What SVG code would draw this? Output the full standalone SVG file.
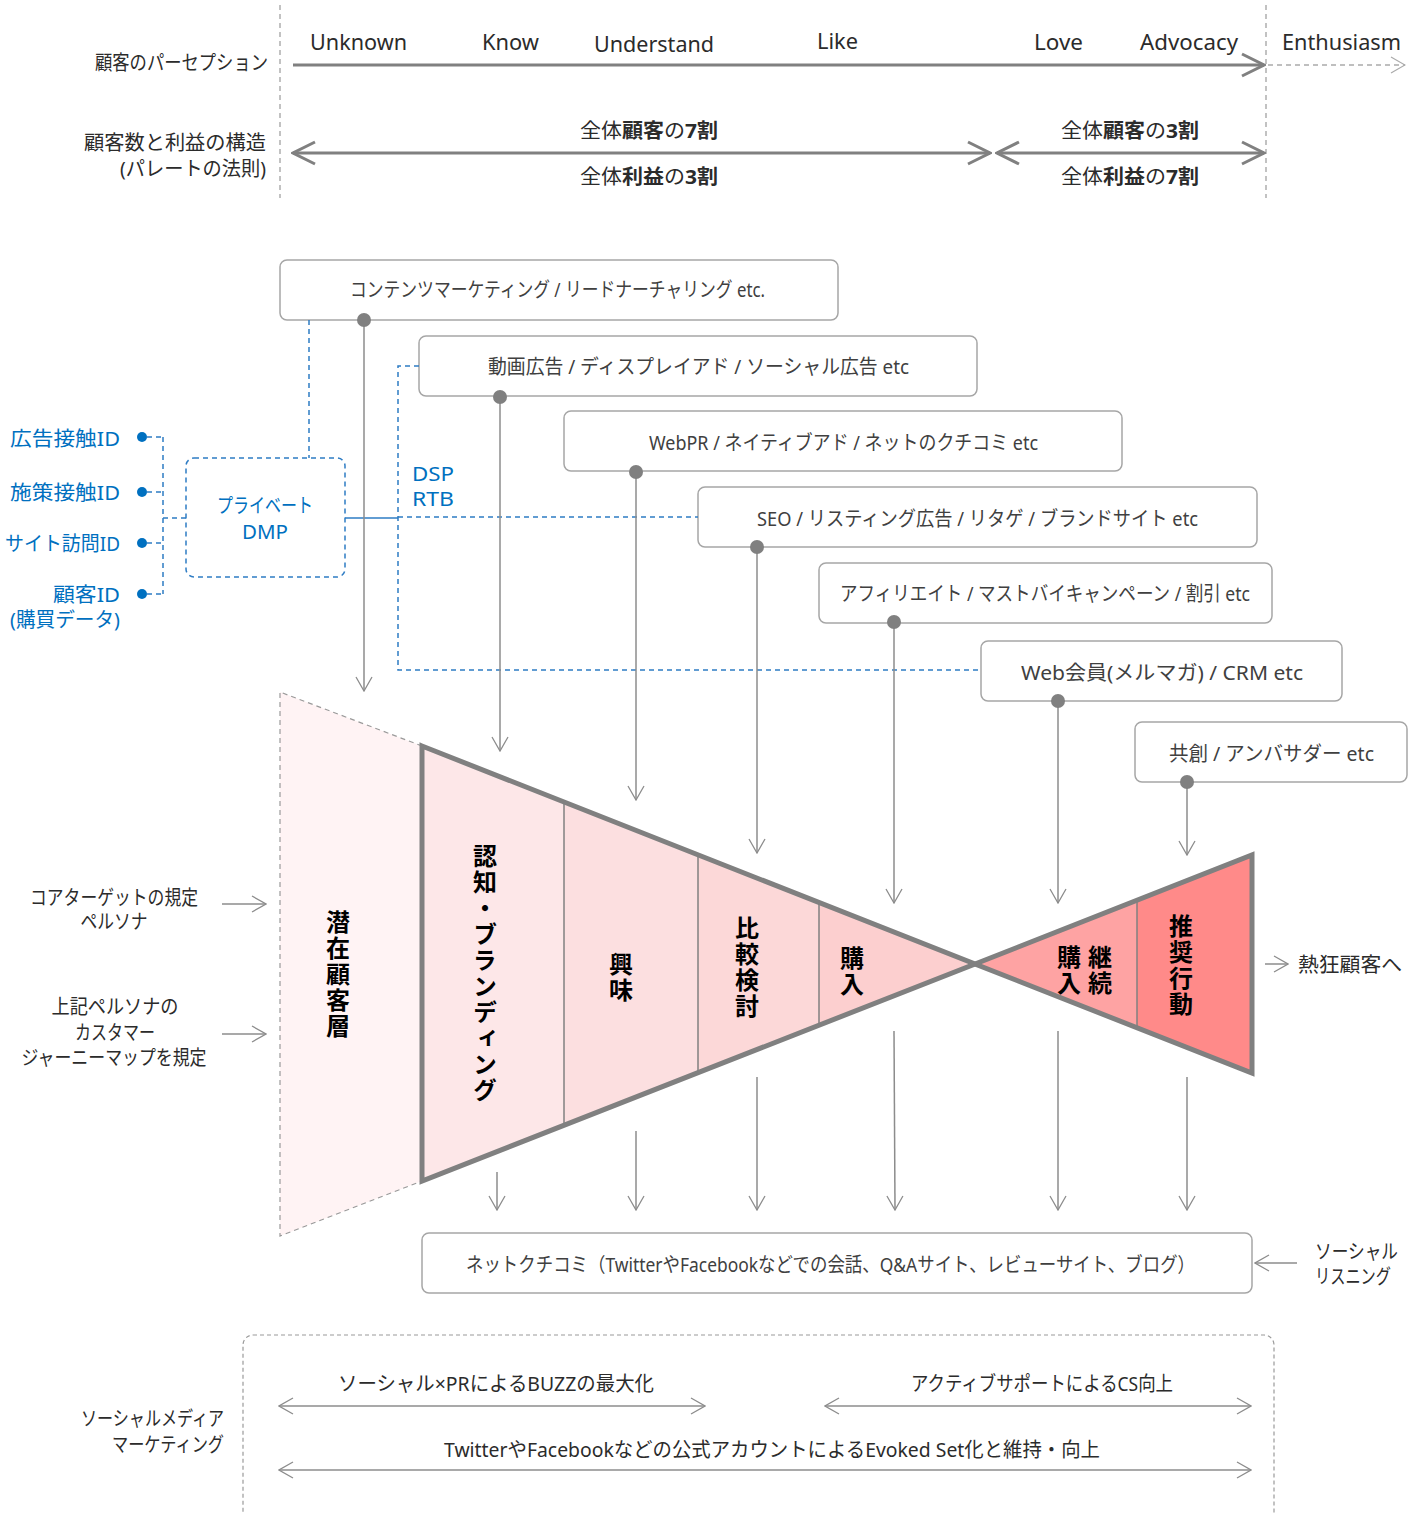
<svg xmlns="http://www.w3.org/2000/svg" width="1413" height="1514" viewBox="0 0 1413 1514">
<style>
.t{font-family:"Noto Sans","Noto Sans CJK JP",sans-serif;font-size:20px;fill:#2b2b2b}
.bt{fill:#404040}
.bl{fill:#0070C0}
.bx{fill:#fff;stroke:#a6a6a6;stroke-width:1.5}
.v{font-family:"Noto Sans CJK JP",sans-serif;font-weight:bold;font-size:24px;writing-mode:vertical-rl;text-anchor:middle;fill:#000;letter-spacing:2px}
.c{stroke:#8c8c8c;stroke-width:1.5;fill:none}
.ct{stroke:#808080;stroke-width:3;fill:none}
.bd{stroke:#2E7CC4;stroke-width:1.5;stroke-dasharray:5 4;fill:none}
.gd{stroke:#9a9a9a;stroke-width:1.2;stroke-dasharray:5 4;fill:none}
.fo{stroke:#808080;stroke-width:5;stroke-linejoin:miter}
.dv{stroke:#808080;stroke-width:1.5}
.dot{fill:#808080}
</style>
<defs>
<marker id="mt" viewBox="0 0 16 18" markerWidth="16" markerHeight="18" refX="15" refY="9" orient="auto-start-reverse" markerUnits="userSpaceOnUse">
<path d="M1,1 L15,9 L1,17" fill="none" stroke="#8c8c8c" stroke-width="1.3"/>
</marker>
<marker id="mg" viewBox="0 0 16 18" markerWidth="16" markerHeight="18" refX="15" refY="9" orient="auto-start-reverse" markerUnits="userSpaceOnUse">
<path d="M1,1 L15,9 L1,17" fill="none" stroke="#aaaaaa" stroke-width="1.2"/>
</marker>
<marker id="mk" viewBox="0 0 26 26" markerWidth="26" markerHeight="26" refX="24" refY="13" orient="auto-start-reverse" markerUnits="userSpaceOnUse">
<path d="M2,2 L24,13 L2,24" fill="none" stroke="#808080" stroke-width="3"/>
</marker>
</defs>

<g id="header">
<line class="gd" x1="280" y1="5" x2="280" y2="198"/>
<line class="gd" x1="1266" y1="5" x2="1266" y2="198"/>
<text class="t" x="268" y="70" text-anchor="end" textLength="173" lengthAdjust="spacingAndGlyphs">顧客のパーセプション</text>
<text class="t" x="266" y="150" text-anchor="end" textLength="182" lengthAdjust="spacingAndGlyphs">顧客数と利益の構造</text>
<text class="t" x="266" y="176" text-anchor="end" textLength="146" lengthAdjust="spacingAndGlyphs">(パレートの法則)</text>
<g class="t" style="font-size:21px">
<text x="310" y="50" textLength="97" lengthAdjust="spacingAndGlyphs">Unknown</text>
<text x="482" y="50" textLength="57" lengthAdjust="spacingAndGlyphs">Know</text>
<text x="594" y="52" textLength="120" lengthAdjust="spacingAndGlyphs">Understand</text>
<text x="817" y="49" textLength="41" lengthAdjust="spacingAndGlyphs">Like</text>
<text x="1034" y="50" textLength="49" lengthAdjust="spacingAndGlyphs">Love</text>
<text x="1140" y="50" textLength="98" lengthAdjust="spacingAndGlyphs">Advocacy</text>
<text x="1282" y="50" textLength="119" lengthAdjust="spacingAndGlyphs">Enthusiasm</text>
</g>
<text class="t" x="580" y="138" textLength="138" lengthAdjust="spacingAndGlyphs">全体<tspan font-weight="bold">顧客</tspan>の<tspan font-weight="bold">7割</tspan></text>
<text class="t" x="580" y="184" textLength="138" lengthAdjust="spacingAndGlyphs">全体<tspan font-weight="bold">利益</tspan>の<tspan font-weight="bold">3割</tspan></text>
<text class="t" x="1061" y="138" textLength="138" lengthAdjust="spacingAndGlyphs">全体<tspan font-weight="bold">顧客</tspan>の<tspan font-weight="bold">3割</tspan></text>
<text class="t" x="1061" y="184" textLength="138" lengthAdjust="spacingAndGlyphs">全体<tspan font-weight="bold">利益</tspan>の<tspan font-weight="bold">7割</tspan></text>
</g>

<g id="box1"><rect class="bx" x="280" y="260" width="558" height="60" rx="7"/><text class="t bt" x="350" y="297" textLength="415" lengthAdjust="spacingAndGlyphs">コンテンツマーケティング / リードナーチャリング etc.</text></g>
<g id="box2"><rect class="bx" x="419" y="336" width="558" height="60" rx="7"/><text class="t bt" x="488" y="374" textLength="421" lengthAdjust="spacingAndGlyphs">動画広告 / ディスプレイアド / ソーシャル広告 etc</text></g>
<g id="box3"><rect class="bx" x="564" y="411" width="558" height="60" rx="7"/><text class="t bt" x="649" y="450" textLength="389" lengthAdjust="spacingAndGlyphs">WebPR / ネイティブアド / ネットのクチコミ etc</text></g>
<g id="box4"><rect class="bx" x="698" y="487" width="559" height="60" rx="7"/><text class="t bt" x="757" y="526" textLength="441" lengthAdjust="spacingAndGlyphs">SEO / リスティング広告 / リタゲ / ブランドサイト etc</text></g>
<g id="box5"><rect class="bx" x="819" y="563" width="453" height="60" rx="7"/><text class="t bt" x="840" y="601" textLength="410" lengthAdjust="spacingAndGlyphs">アフィリエイト / マストバイキャンペーン / 割引 etc</text></g>
<g id="box6"><rect class="bx" x="981" y="641" width="361" height="60" rx="7"/><text class="t bt" x="1021" y="680" textLength="282" lengthAdjust="spacingAndGlyphs">Web会員(メルマガ) / CRM etc</text></g>
<g id="box7"><rect class="bx" x="1135" y="722" width="272" height="60" rx="7"/><text class="t bt" x="1169" y="761" textLength="205" lengthAdjust="spacingAndGlyphs">共創 / アンバサダー etc</text></g>

<g id="dmp-ids">
<text class="t bl" x="120" y="446" text-anchor="end" textLength="110" lengthAdjust="spacingAndGlyphs">広告接触ID</text>
<text class="t bl" x="120" y="500" text-anchor="end" textLength="110" lengthAdjust="spacingAndGlyphs">施策接触ID</text>
<text class="t bl" x="120" y="551" text-anchor="end" textLength="115" lengthAdjust="spacingAndGlyphs">サイト訪問ID</text>
<text class="t bl" x="120" y="602" text-anchor="end" textLength="67" lengthAdjust="spacingAndGlyphs">顧客ID</text>
<text class="t bl" x="120" y="627" text-anchor="end" textLength="110" lengthAdjust="spacingAndGlyphs">(購買データ)</text>
<circle cx="142" cy="437" r="5" fill="#0070C0"/>
<circle cx="142" cy="492" r="5" fill="#0070C0"/>
<circle cx="142" cy="543" r="5" fill="#0070C0"/>
<circle cx="142" cy="594" r="5" fill="#0070C0"/>
</g>
<g id="dmp">
<rect x="186" y="458" width="159" height="119" rx="8" fill="#fff" stroke="#2E7CC4" stroke-width="1.5" stroke-dasharray="5 4"/>
<text class="t bl" x="265" y="513" text-anchor="middle" textLength="96" lengthAdjust="spacingAndGlyphs">プライベート</text>
<text class="t bl" x="265" y="539" text-anchor="middle" textLength="46" lengthAdjust="spacingAndGlyphs">DMP</text>
</g>
<g id="dsp">
<text class="t bl" x="412" y="481" textLength="42" lengthAdjust="spacingAndGlyphs">DSP</text>
<text class="t bl" x="412" y="506" textLength="42" lengthAdjust="spacingAndGlyphs">RTB</text>
</g>

<g id="potential">
<polygon points="280,692 422,746 422,1181 280,1236" fill="#fff3f4"/>
<path class="gd" d="M422,746 L280,692 L280,1236 L422,1181"/>
<text class="v" x="338" y="975">潜在顧客層</text>
</g>

<g id="funnel-left">
<polygon points="422,746 564,802 564,1125 422,1181" fill="#fde7e8"/>
<polygon points="564,802 698,855 698,1072 564,1125" fill="#fcdfe0"/>
<polygon points="698,855 819,902 819,1025 698,1072" fill="#fcd8d8"/>
<polygon points="819,902 975,964 819,1025" fill="#fccfcf"/>
<line class="dv" x1="564" y1="802" x2="564" y2="1125"/>
<line class="dv" x1="698" y1="855" x2="698" y2="1072"/>
<line class="dv" x1="819" y1="902" x2="819" y2="1025"/>
<polygon class="fo" points="422,746 975,964 422,1181" fill="none"/>
<text class="v" x="485" y="974">認知・ブランディング</text>
<text class="v" x="621" y="978">興味</text>
<text class="v" x="747" y="968">比較検討</text>
<text class="v" x="852" y="972">購入</text>
</g>

<g id="funnel-right">
<polygon points="975,964 1137,900 1137,1028" fill="#fea3a3"/>
<polygon points="1137,900 1252,855 1252,1073 1137,1028" fill="#ff8a89"/>
<line class="dv" x1="1137" y1="900" x2="1137" y2="1028"/>
<polygon class="fo" points="975,964 1252,855 1252,1073" fill="none"/>
<text class="v" x="1069" y="971">購入</text>
<text class="v" x="1100" y="971">継続</text>
<text class="v" x="1181" y="966">推奨行動</text>
</g>

<g id="side-labels">
<text class="t" x="114" y="905" text-anchor="middle" textLength="168" lengthAdjust="spacingAndGlyphs">コアターゲットの規定</text>
<text class="t" x="114" y="929" text-anchor="middle" textLength="67" lengthAdjust="spacingAndGlyphs">ペルソナ</text>
<text class="t" x="115" y="1014" text-anchor="middle" textLength="127" lengthAdjust="spacingAndGlyphs">上記ペルソナの</text>
<text class="t" x="115" y="1040" text-anchor="middle" textLength="80" lengthAdjust="spacingAndGlyphs">カスタマー</text>
<text class="t" x="114" y="1065" text-anchor="middle" textLength="185" lengthAdjust="spacingAndGlyphs">ジャーニーマップを規定</text>
<text class="t" x="1298" y="972" textLength="104" lengthAdjust="spacingAndGlyphs">熱狂顧客へ</text>
<text class="t" x="1315" y="1259" textLength="83" lengthAdjust="spacingAndGlyphs">ソーシャル</text>
<text class="t" x="1315" y="1284" textLength="76" lengthAdjust="spacingAndGlyphs">リスニング</text>
</g>

<g id="netkuchikomi">
<rect class="bx" x="422" y="1233" width="830" height="60" rx="7"/>
<text class="t bt" x="466" y="1272" textLength="729" lengthAdjust="spacingAndGlyphs">ネットクチコミ（TwitterやFacebookなどでの会話、Q&amp;Aサイト、レビューサイト、ブログ）</text>
</g>

<g id="social-media">
<rect x="243" y="1335" width="1031" height="210" rx="10" fill="none" stroke="#9a9a9a" stroke-width="1.2" stroke-dasharray="4 3"/>
<text class="t" x="224" y="1426" text-anchor="end" textLength="143" lengthAdjust="spacingAndGlyphs">ソーシャルメディア</text>
<text class="t" x="224" y="1452" text-anchor="end" textLength="112" lengthAdjust="spacingAndGlyphs">マーケティング</text>
<text class="t" x="338" y="1391" textLength="316" lengthAdjust="spacingAndGlyphs">ソーシャル×PRによるBUZZの最大化</text>
<text class="t" x="911" y="1391" textLength="262" lengthAdjust="spacingAndGlyphs">アクティブサポートによるCS向上</text>
<text class="t" x="444" y="1457" textLength="656" lengthAdjust="spacingAndGlyphs">TwitterやFacebookなどの公式アカウントによるEvoked Set化と維持・向上</text>
</g>

<g id="connectors">
<line class="ct" x1="293" y1="65" x2="1264" y2="65" marker-end="url(#mk)"/>
<line x1="1268" y1="65" x2="1405" y2="65" stroke="#aaaaaa" stroke-width="1.3" stroke-dasharray="5 4" marker-end="url(#mg)"/>
<line class="ct" x1="293" y1="153" x2="990" y2="153" marker-start="url(#mk)" marker-end="url(#mk)"/>
<line class="ct" x1="997" y1="153" x2="1264" y2="153" marker-start="url(#mk)" marker-end="url(#mk)"/>

<path class="bd" d="M309,320 V458"/>
<path class="bd" d="M147,437 H163 M147,492 H163 M147,543 H163 M147,594 H163 M163,437 V594 M163,518 H186"/>
<path d="M345,518 H398" stroke="#2E7CC4" stroke-width="1.5"/>
<path class="bd" d="M398,517 H698"/>
<path class="bd" d="M419,366 H398 V670 H981"/>

<line class="c" x1="364" y1="320" x2="364" y2="691" marker-end="url(#mt)"/>
<line class="c" x1="500" y1="397" x2="500" y2="751" marker-end="url(#mt)"/>
<line class="c" x1="636" y1="472" x2="636" y2="800" marker-end="url(#mt)"/>
<line class="c" x1="757" y1="547" x2="757" y2="853" marker-end="url(#mt)"/>
<line class="c" x1="894" y1="622" x2="894" y2="903" marker-end="url(#mt)"/>
<line class="c" x1="1058" y1="701" x2="1058" y2="903" marker-end="url(#mt)"/>
<line class="c" x1="1187" y1="782" x2="1187" y2="855" marker-end="url(#mt)"/>
<circle class="dot" cx="364" cy="320" r="7"/>
<circle class="dot" cx="500" cy="397" r="7"/>
<circle class="dot" cx="636" cy="472" r="7"/>
<circle class="dot" cx="757" cy="547" r="7"/>
<circle class="dot" cx="894" cy="622" r="7"/>
<circle class="dot" cx="1058" cy="701" r="7"/>
<circle class="dot" cx="1187" cy="782" r="7"/>

<line class="c" x1="497" y1="1172" x2="497" y2="1210" marker-end="url(#mt)"/>
<line class="c" x1="636" y1="1131" x2="636" y2="1210" marker-end="url(#mt)"/>
<line class="c" x1="757" y1="1077" x2="757" y2="1210" marker-end="url(#mt)"/>
<line class="c" x1="894" y1="1031" x2="895" y2="1210" marker-end="url(#mt)"/>
<line class="c" x1="1058" y1="1031" x2="1058" y2="1210" marker-end="url(#mt)"/>
<line class="c" x1="1187" y1="1077" x2="1187" y2="1210" marker-end="url(#mt)"/>

<line class="c" x1="222" y1="904" x2="266" y2="904" marker-end="url(#mt)"/>
<line class="c" x1="222" y1="1034" x2="266" y2="1034" marker-end="url(#mt)"/>
<line class="c" x1="1265" y1="964" x2="1288" y2="964" marker-end="url(#mt)"/>
<line class="c" x1="1297" y1="1263" x2="1255" y2="1263" marker-end="url(#mt)"/>

<line class="c" x1="279" y1="1406" x2="705" y2="1406" marker-start="url(#mt)" marker-end="url(#mt)"/>
<line class="c" x1="825" y1="1406" x2="1251" y2="1406" marker-start="url(#mt)" marker-end="url(#mt)"/>
<line class="c" x1="279" y1="1470" x2="1251" y2="1470" marker-start="url(#mt)" marker-end="url(#mt)"/>
</g>
</svg>
